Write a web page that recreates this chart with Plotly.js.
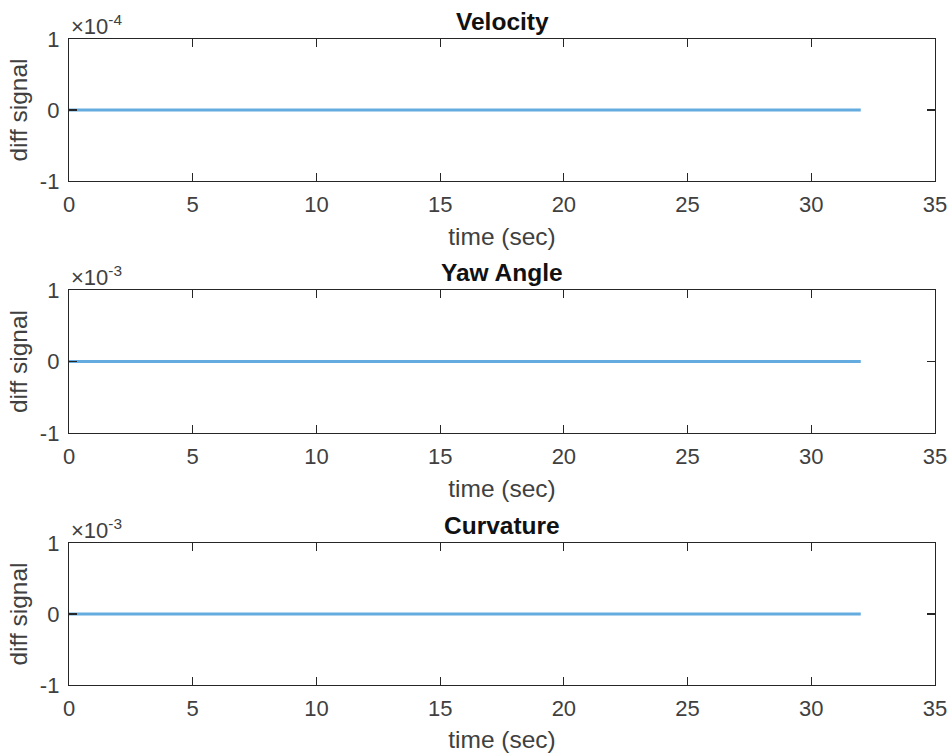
<!DOCTYPE html>
<html>
<head>
<meta charset="utf-8">
<script src="https://cdn.plot.ly/plotly-3.0.1.min.js"></script>
<style>html,body{margin:0;padding:0;background:#fff;}#chart{width:951px;height:753px;}</style>
</head>
<body>
<div id="chart"></div>
<script>
// Data
const timeSec = [0, 32];
const velocityDiff = [0, 0];
const yawAngleDiff = [0, 0];
const curvatureDiff = [0, 0];
const panelTitles = ["Velocity", "Yaw Angle", "Curvature"];
const panelExponents = ["-4", "-3", "-3"];
const xTicks = [0, 5, 10, 15, 20, 25, 30, 35];
const yTicks = [-1, 0, 1];

const series = [velocityDiff, yawAngleDiff, curvatureDiff];
const domains = [[0.7802, 1], [0.3901, 0.6115], [0, 0.2198]];
const axisColor = '#262626';
const fam = 'Liberation Sans, Arial, sans-serif';
const tickFont = {family: fam, size: 22, color: '#404040'};
const labelFont = {family: fam, size: 24.5, color: '#404040'};

const traces = series.map((ys, i) => ({
  x: timeSec, y: ys, type: 'scatter', mode: 'lines',
  line: {color: 'rgb(100,172,224)', width: 3},
  xaxis: i === 0 ? 'x' : 'x' + (i + 1),
  yaxis: i === 0 ? 'y' : 'y' + (i + 1),
  showlegend: false, hoverinfo: 'skip'
}));

const layout = {
  width: 951, height: 753,
  margin: {l: 69, r: 16, t: 39, b: 68},
  paper_bgcolor: '#fff', plot_bgcolor: '#fff',
  font: tickFont,
  showlegend: false,
  annotations: []
};

for (let i = 0; i < 3; i++) {
  const s = i === 0 ? '' : String(i + 1);
  layout['xaxis' + s] = {
    domain: [0, 1], anchor: 'y' + s, range: [0, 35],
    tickvals: xTicks, ticktext: xTicks.map(String),
    ticks: 'inside', ticklen: 8, tickwidth: 1.2, tickcolor: axisColor,
    showline: true, linecolor: axisColor, linewidth: 1.2, mirror: 'ticks',
    showgrid: false, zeroline: false,
    ticklabelstandoff: 3,
    tickfont: tickFont,
    automargin: false,
    title: {text: 'time (sec)', font: labelFont, standoff: 12}
  };
  layout['yaxis' + s] = {
    domain: domains[i], anchor: 'x' + s, range: [-1, 1],
    tickvals: yTicks, ticktext: yTicks.map(String),
    ticks: 'inside', ticklen: 8, tickwidth: 1.2, tickcolor: axisColor,
    showline: true, linecolor: axisColor, linewidth: 1.2, mirror: 'ticks',
    showgrid: false, zeroline: false,
    ticklabelstandoff: 4,
    tickfont: tickFont,
    automargin: false,
    title: {text: 'diff signal', font: labelFont, standoff: 5}
  };
  layout.annotations.push({
    text: '<b>' + panelTitles[i] + '</b>',
    xref: 'paper', yref: 'paper', x: 0.5, y: domains[i][1],
    xanchor: 'center', yanchor: 'bottom', yshift: 2, showarrow: false,
    font: {family: fam, size: 24.5, color: '#111'}
  });
  layout.annotations.push({
    text: '×10<sup>' + panelExponents[i] + '</sup>',
    xref: 'paper', yref: 'paper', x: 0, y: domains[i][1],
    xanchor: 'left', yanchor: 'bottom', yshift: -2, showarrow: false,
    font: tickFont
  });
}

Plotly.newPlot('chart', traces, layout, {displayModeBar: false, staticPlot: true});
</script>
</body>
</html>
